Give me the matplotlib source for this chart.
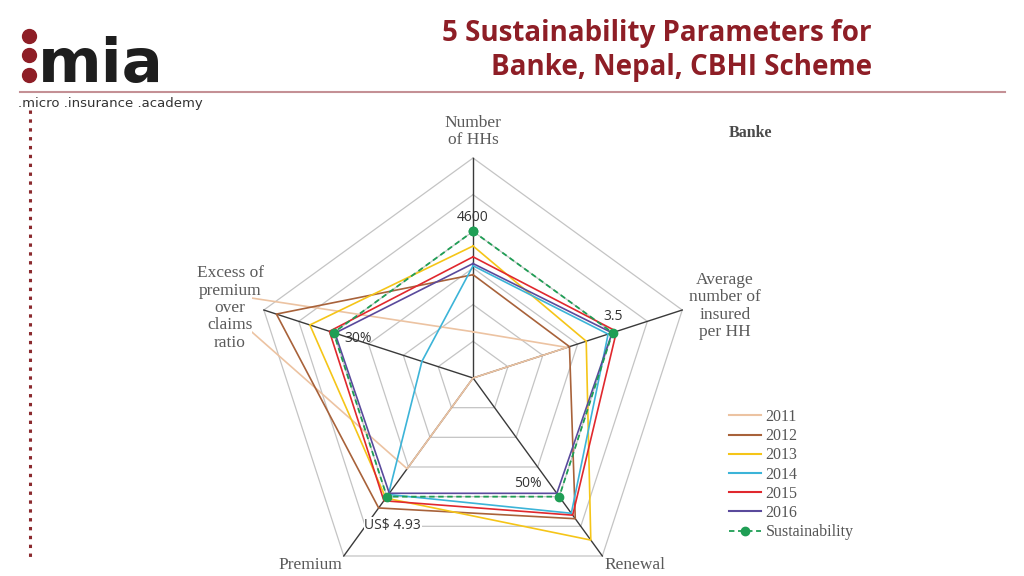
import numpy as np
import matplotlib.pyplot as plt
from matplotlib.lines import Line2D

# Radar axes, clockwise from the top
axis_names = ['Number\nof HHs', 'Average\nnumber of\ninsured\nper HH', 'Renewal', 'Premium',
              'Excess of\npremium\nover\nclaims\nratio']
# Sustainability thresholds (sit on ring 4 of 6)
thresholds = [4600, 3.5, 50, 4.93, 30]
threshold_labels = ['4600', '3.5', '50%', 'US$ 4.93', '30%']

years = ['2011', '2012', '2013', '2014', '2015', '2016']
households = [1450, 3240, 4140, 3520, 3800, 3590]
avg_insured = [2.36, 2.42, 2.84, 3.39, 3.60, 3.49]
renewal = [0.0, 59.3, 68.3, 57.0, 57.8, 48.6]
premium = [3.77, 5.40, 4.99, 4.84, 5.10, 4.79]
excess_ratio = [57.6, 42.3, 35.1, 11.0, 30.9, 29.7]

year_colors = ['#ecc3a2', '#a8623a', '#f5c518', '#3cb4d8', '#e0282e', '#5a4a9c']
sus_color = '#1f9e55'
brand_red = '#8e1e26'

n_rings = 6
sus_ring = 4
angles = np.deg2rad(90 - 72 * np.arange(5))


def to_xy(values):
    r = np.array(values) / np.array(thresholds) * sus_ring / n_rings
    x = r * np.cos(angles)
    y = r * np.sin(angles)
    return np.append(x, x[0]), np.append(y, y[0])


fig = plt.figure(figsize=(10.24, 5.76), dpi=100)
W, H = 1024, 576
# radar axes: 220 px per unit, centre at (473, 378) px
ax = fig.add_axes([252 / W, 0, 485 / W, 462 / H])
ax.set_xlim(-1.005, 1.2)
ax.set_ylim(-0.9, 1.2)
ax.axis('off')

# grid rings
for k in range(1, n_rings + 1):
    rr = k / n_rings
    gx = rr * np.cos(angles)
    gy = rr * np.sin(angles)
    ax.plot(np.append(gx, gx[0]), np.append(gy, gy[0]), color='#c4c4c4', lw=0.9, zorder=1)
# spokes
for a in angles:
    ax.plot([0, np.cos(a)], [0, np.sin(a)], color='#3a3a3a', lw=1.0, zorder=2)

series = np.array([households, avg_insured, renewal, premium, excess_ratio]).T
for yr, vals, c in zip(years, series, year_colors):
    x, y = to_xy(vals)
    ax.plot(x, y, color=c, lw=1.2, zorder=3)

sx, sy = to_xy(thresholds)
ax.plot(sx, sy, color=sus_color, lw=1.3, ls=(0, (3, 2)), marker='o', markersize=6, zorder=4)

# threshold value labels
offsets = [(0, 14), (1, 16), (-31, 13), (6, -29), (25, -6)]
for i, (lab, off) in enumerate(zip(threshold_labels, offsets)):
    bbox = dict(facecolor='white', edgecolor='none', pad=0.5) if lab.startswith('US') else None
    ax.annotate(lab, (sx[i], sy[i]), xytext=off, textcoords='offset pixels',
                ha='center', va='center', fontsize=10, color='#333333',
                family='Open Sans', bbox=bbox, zorder=5)

# axis names
label_pos = [(0, 1.12), (1.145, 0.327), (0.736, -0.85), (-0.741, -0.85), (-1.105, 0.318)]
for name, (lx, ly) in zip(axis_names, label_pos):
    ax.text(lx, ly, name, ha='center', va='center', fontsize=12.5, color='#5a5a5a',
            family='Liberation Serif', linespacing=1.12)

fig.text(750 / W, 1 - 133 / H, 'Banke', ha='center', va='center', fontsize=11.5,
         color='#4a4a4a', family='Liberation Serif', fontweight='bold')

# legend
handles = [Line2D([], [], color=c, lw=1.5) for c in year_colors]
handles.append(Line2D([], [], color=sus_color, lw=1.3, ls=(0, (3, 2)), marker='o', markersize=6))
leg = fig.legend(handles, years + ['Sustainability'], loc='upper left',
                 bbox_to_anchor=(721 / W, 1 - 401 / H), frameon=False,
                 prop={'family': 'Liberation Serif', 'size': 11.5},
                 handlelength=2.0, handletextpad=0.3, labelspacing=0.2, borderpad=0)
for t in leg.get_texts():
    t.set_color('#555555')

# header
fig.text(872 / W, 1 - 33 / H, '5 Sustainability Parameters for', ha='right', va='center',
         fontsize=20, fontweight='bold', family='Open Sans', color=brand_red)
fig.text(872 / W, 1 - 68 / H, 'Banke, Nepal, CBHI Scheme', ha='right', va='center',
         fontsize=20, fontweight='bold', family='Open Sans', color=brand_red)
fig.add_artist(Line2D([20 / W, 1005 / W], [1 - 92 / H, 1 - 92 / H], color='#c49095', lw=1.5))
fig.add_artist(Line2D([30 / W, 30 / W], [1 - 110 / H, 1 - 560 / H], color='#8b2a2e',
                      lw=2.2, ls=(0, (1.1, 1.8))))

# logo
for yy in [36, 55, 74.5]:
    fig.add_artist(Line2D([28.5 / W], [1 - yy / H], marker='o', markersize=10,
                          color=brand_red, lw=0))
fig.text(38 / W, 1 - 82 / H, 'mia', ha='left', va='baseline', fontsize=44,
         fontweight='bold', family='DejaVu Sans', color='#1e1e1e')
fig.text(18 / W, 1 - 103 / H, '.micro .insurance .academy', ha='left', va='center',
         fontsize=9.5, family='DejaVu Sans', color='#333333')

fig.savefig('out.png', dpi=100)
